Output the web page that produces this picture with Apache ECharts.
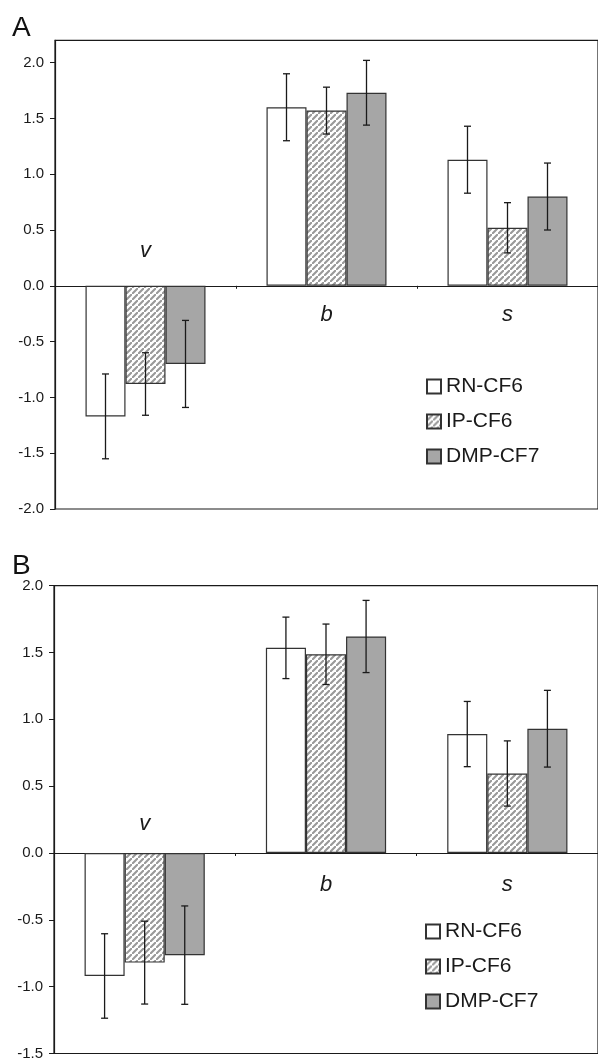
<!DOCTYPE html>
<html>
<head>
<meta charset="utf-8">
<script src="https://cdn.jsdelivr.net/npm/echarts@6/dist/echarts.min.js"></script>
<style>
  html, body { margin: 0; padding: 0; background: #fff; }
  #chart { width: 598px; height: 1061px; }
</style>
</head>
<body>
<div id="chart"></div>
<script>
// ---- data ----
const categories = ['v', 'b', 's'];
const seriesNames = ['RN-CF6', 'IP-CF6', 'DMP-CF7'];

// Panel A: means and error half-widths
const rnA = [-1.17, 1.60, 1.13];
const ipA = [-0.88, 1.57, 0.52];
const dmpA = [-0.70, 1.73, 0.80];
const rnErrA = [0.38, 0.30, 0.30];
const ipErrA = [0.28, 0.21, 0.225];
const dmpErrA = [0.39, 0.29, 0.30];

// Panel B: means and error half-widths
const rnB = [-0.92, 1.535, 0.89];
const ipB = [-0.82, 1.487, 0.595];
const dmpB = [-0.764, 1.62, 0.93];
const rnErrB = [0.316, 0.23, 0.244];
const ipErrB = [0.31, 0.226, 0.244];
const dmpErrB = [0.368, 0.27, 0.287];

// value axis ranges
const yRangeA = [-2, 2.2];
const yRangeB = [-1.5, 2.0];
const yStep = 0.5;

// ---- styles ----
const FONT = 'Liberation Sans, Arial, Helvetica, sans-serif';
const INK = '#1a1a1a';
const BAR_EDGE = '#333';
const CAT_GAP = 0.337;

function hatchPattern() {
  const n = 6;
  const c = document.createElement('canvas');
  c.width = n; c.height = n;
  const g = c.getContext('2d');
  g.fillStyle = '#ffffff';
  g.fillRect(0, 0, n, n);
  g.strokeStyle = '#999999';
  g.lineWidth = 2.1;
  g.beginPath();
  g.moveTo(-1, n + 1); g.lineTo(n + 1, -1);
  g.moveTo(-n - 1, 1); g.lineTo(1, -n - 1);
  g.moveTo(n - 1, 2 * n + 1); g.lineTo(2 * n + 1, n - 1);
  g.stroke();
  return { image: c, repeat: 'repeat' };
}

const fills = ['#ffffff', hatchPattern(), '#a6a6a6'];

function barSeries(name, k, values, axisIdx) {
  return {
    name: name,
    type: 'bar',
    xAxisIndex: axisIdx,
    yAxisIndex: axisIdx,
    data: values,
    barGap: '0%',
    barCategoryGap: (CAT_GAP * 100) + '%',
    itemStyle: { color: fills[k], borderColor: BAR_EDGE, borderWidth: 1.2 },
    emphasis: { disabled: true },
    silent: true,
    z: 2
  };
}

function errorSeries(k, values, errs, axisIdx) {
  return {
    type: 'custom',
    xAxisIndex: axisIdx,
    yAxisIndex: axisIdx,
    silent: true,
    z: 5,
    data: values.map((v, i) => [i, v, errs[i]]),
    renderItem: function (params, api) {
      const i = api.value(0), v = api.value(1), e = api.value(2);
      const band = api.size([1, 0])[0];
      const bw = band * (1 - CAT_GAP) / 3;
      const cx = api.coord([i, 0])[0] + (k - 1) * bw;
      const yTop = api.coord([i, v + e])[1];
      const yBot = api.coord([i, v - e])[1];
      const cap = 3.5;
      const st = { stroke: INK, lineWidth: 1.3 };
      return {
        type: 'group',
        children: [
          { type: 'line', shape: { x1: cx, y1: yTop, x2: cx, y2: yBot }, style: st },
          { type: 'line', shape: { x1: cx - cap, y1: yTop, x2: cx + cap, y2: yTop }, style: st },
          { type: 'line', shape: { x1: cx - cap, y1: yBot, x2: cx + cap, y2: yBot }, style: st }
        ]
      };
    }
  };
}

// category names written on the side of the zero line away from the bars
function categoryLabelSeries(refValues, axisIdx, upGap, downGap) {
  return {
    type: 'custom',
    xAxisIndex: axisIdx,
    yAxisIndex: axisIdx,
    silent: true,
    z: 6,
    data: categories.map((c, i) => [i, refValues[i] < 0 ? 1 : -1]),
    renderItem: function (params, api) {
      const i = api.value(0), side = api.value(1);
      const p = api.coord([i, 0]);
      return {
        type: 'text',
        x: p[0],
        y: side > 0 ? p[1] - upGap : p[1] + downGap,
        style: {
          text: categories[params.dataIndex],
          fill: INK,
          font: 'italic 22px ' + FONT,
          align: 'center',
          verticalAlign: side > 0 ? 'bottom' : 'top'
        }
      };
    }
  };
}

function xAxisDef(gridIndex) {
  return {
    type: 'category',
    gridIndex: gridIndex,
    data: categories,
    axisLine: { onZero: true, lineStyle: { color: INK, width: 1.2 } },
    axisTick: { show: true, length: 3, lineStyle: { color: INK } },
    axisLabel: { show: false },
    splitLine: { show: false }
  };
}

function yAxisDef(gridIndex, range) {
  return {
    type: 'value',
    gridIndex: gridIndex,
    min: range[0],
    max: range[1],
    interval: yStep,
    axisLine: { show: true, onZero: false, lineStyle: { color: INK, width: 1.2 } },
    axisTick: { show: true, length: 5, lineStyle: { color: INK } },
    axisLabel: {
      color: INK, fontSize: 15, fontFamily: FONT, margin: 11,
      showMaxLabel: range[1] % yStep === 0,
      formatter: v => v.toFixed(1)
    },
    splitLine: { show: false }
  };
}

function legendDef(left, top) {
  return {
    data: seriesNames,
    orient: 'vertical',
    left: left,
    top: top,
    itemWidth: 14,
    itemHeight: 14,
    itemGap: 14,
    selectedMode: false,
    icon: 'rect',
    textStyle: { color: INK, fontSize: 21, fontFamily: FONT }
  };
}

const chart = echarts.init(document.getElementById('chart'), null, { renderer: 'canvas' });

const option = {
  animation: false,
  backgroundColor: '#ffffff',
  title: [
    { text: 'A', left: 7, top: 9, textStyle: { fontSize: 28, fontWeight: 'normal', color: '#111', fontFamily: FONT } },
    { text: 'B', left: 7, top: 547, textStyle: { fontSize: 28, fontWeight: 'normal', color: '#111', fontFamily: FONT } }
  ],
  grid: [
    { left: 55, top: 40.3, width: 545, height: 468.7, show: true, borderColor: INK, borderWidth: 1.2, backgroundColor: 'transparent' },
    { left: 54, top: 585.7, width: 547, height: 467.8, show: true, borderColor: INK, borderWidth: 1.2, backgroundColor: 'transparent' }
  ],
  xAxis: [xAxisDef(0), xAxisDef(1)],
  yAxis: [yAxisDef(0, yRangeA), yAxisDef(1, yRangeB)],
  legend: [legendDef(421, 371), legendDef(420, 916)],
  series: [
    barSeries(seriesNames[0], 0, rnA, 0),
    barSeries(seriesNames[1], 1, ipA, 0),
    barSeries(seriesNames[2], 2, dmpA, 0),
    errorSeries(0, rnA, rnErrA, 0),
    errorSeries(1, ipA, ipErrA, 0),
    errorSeries(2, dmpA, dmpErrA, 0),
    categoryLabelSeries(rnA, 0, 24, 18),

    barSeries(seriesNames[0], 0, rnB, 1),
    barSeries(seriesNames[1], 1, ipB, 1),
    barSeries(seriesNames[2], 2, dmpB, 1),
    errorSeries(0, rnB, rnErrB, 1),
    errorSeries(1, ipB, ipErrB, 1),
    errorSeries(2, dmpB, dmpErrB, 1),
    categoryLabelSeries(rnB, 1, 18, 21)
  ]
};

chart.setOption(option);
</script>
</body>
</html>
